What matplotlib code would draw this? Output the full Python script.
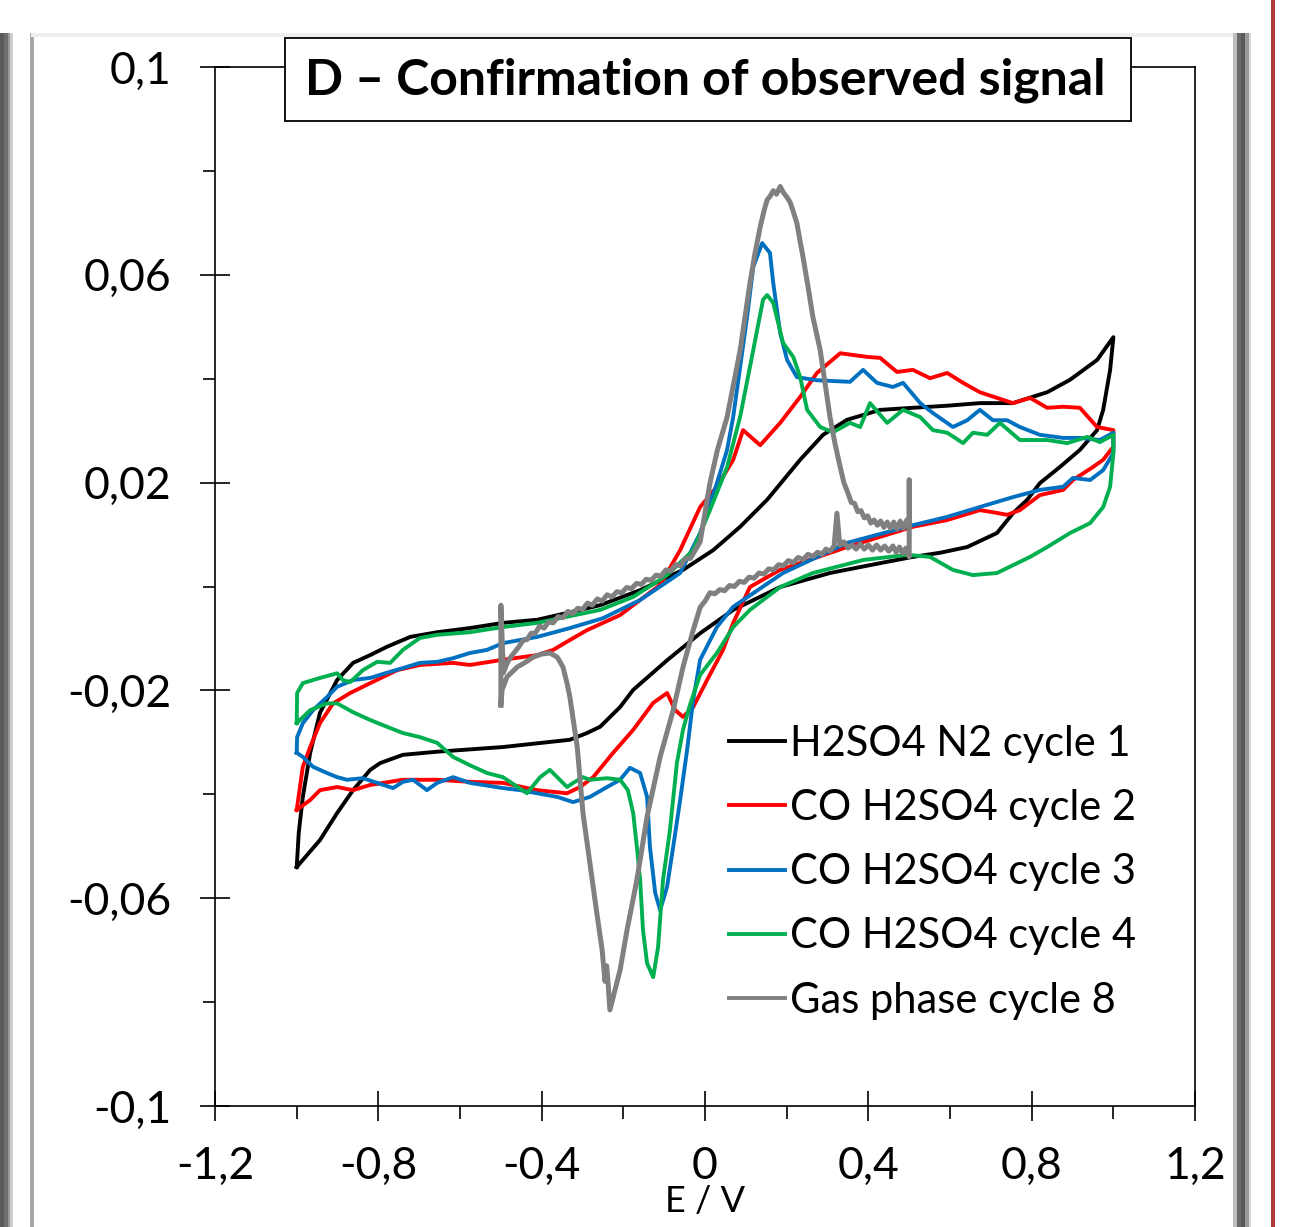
import matplotlib
matplotlib.use('Agg')
import matplotlib.pyplot as plt
from matplotlib.patches import Rectangle
from matplotlib.ticker import FixedLocator, FuncFormatter

plt.rcParams['font.family'] = ['Lato', 'DejaVu Sans']

# E / V and current values of each cycle
black_E = [-1.0, -0.995, -0.985, -0.967, -0.943, -0.901, -0.862, -0.820, -0.779, -0.722, -0.656, -0.576,
           -0.495, -0.411, -0.338, -0.257, -0.159, -0.054, 0.020, 0.086, 0.152, 0.233, 0.289, 0.348, 0.429,
           0.509, 0.593, 0.673, 0.754, 0.838, 0.894, 0.960, 1.0, 0.992, 0.975, 0.960, 0.918, 0.869, 0.820,
           0.789, 0.754, 0.715, 0.642, 0.576, 0.509, 0.429, 0.306, 0.184, 0.069, -0.012, -0.093, -0.176,
           -0.208, -0.257, -0.289, -0.331, -0.495, -0.656, -0.740, -0.796, -0.820, -0.862, -0.901, -0.943, -1.0]
black_I = [-0.0540, -0.0474, -0.0405, -0.0320, -0.0243, -0.0180, -0.0147, -0.0132, -0.0116, -0.0097, -0.0088,
           -0.0080, -0.0070, -0.0064, -0.0051, -0.0036, -0.0007, 0.0032, 0.0070, 0.0115, 0.0167, 0.0244, 0.0292,
           0.0321, 0.0340, 0.0344, 0.0348, 0.0353, 0.0353, 0.0374, 0.0398, 0.0436, 0.0480, 0.0417, 0.0340, 0.0301,
           0.0263, 0.0230, 0.0199, 0.0167, 0.0141, 0.0103, 0.0076, 0.0065, 0.0057, 0.0045, 0.0026, -0.0001,
           -0.0045, -0.0090, -0.0142, -0.0199, -0.0232, -0.0270, -0.0282, -0.0295, -0.0309, -0.0318, -0.0324,
           -0.0340, -0.0353, -0.0392, -0.0436, -0.0488, -0.0540]

red_E = [-1.0, -0.985, -0.967, -0.943, -0.911, -0.869, -0.820, -0.754, -0.698, -0.617, -0.576, -0.495, -0.411,
         -0.372, -0.331, -0.289, -0.208, -0.176, -0.110, -0.061, -0.012, 0.029, 0.069, 0.093, 0.135, 0.184, 0.233,
         0.274, 0.331, 0.397, 0.429, 0.470, 0.509, 0.551, 0.593, 0.632, 0.673, 0.715, 0.754, 0.796, 0.838, 0.877,
         0.918, 0.960, 1.0, 1.0, 0.975, 0.950, 0.901, 0.877, 0.820, 0.771, 0.740, 0.705, 0.673, 0.593, 0.509,
         0.348, 0.184, 0.152, 0.110, 0.069, 0.044, 0.005, -0.029, -0.054, -0.073, -0.093, -0.127, -0.176, -0.225,
         -0.274, -0.306, -0.338, -0.411, -0.495, -0.576, -0.656, -0.740, -0.820, -0.862, -0.901, -0.943, -0.967, -1.0]
red_I = [-0.0430, -0.0347, -0.0309, -0.0263, -0.0225, -0.0205, -0.0186, -0.0161, -0.0151, -0.0147, -0.0151,
         -0.0141, -0.0132, -0.0122, -0.0103, -0.0084, -0.0055, -0.0036, 0.0003, 0.0070, 0.0153, 0.0192, 0.0244,
         0.0301, 0.0272, 0.0315, 0.0365, 0.0411, 0.0449, 0.0442, 0.0440, 0.0413, 0.0417, 0.0401, 0.0411, 0.0392,
         0.0374, 0.0363, 0.0353, 0.0363, 0.0344, 0.0346, 0.0344, 0.0307, 0.0301, 0.0269, 0.0244, 0.0230, 0.0205,
         0.0186, 0.0176, 0.0147, 0.0138, 0.0143, 0.0147, 0.0128, 0.0115, 0.0076, 0.0032, 0.0018, -0.0001, -0.0070,
         -0.0122, -0.0180, -0.0232, -0.0251, -0.0238, -0.0205, -0.0224, -0.0276, -0.0320, -0.0367, -0.0386,
         -0.0398, -0.0392, -0.0378, -0.0376, -0.0372, -0.0372, -0.0382, -0.0392, -0.0386, -0.0392, -0.0411, -0.0430]

blue_E = [-1.0, -0.999, -0.985, -0.960, -0.926, -0.901, -0.862, -0.820, -0.779, -0.740, -0.698, -0.656, -0.617,
          -0.576, -0.534, -0.495, -0.411, -0.331, -0.250, -0.159, -0.061, -0.012, 0.029, 0.054, 0.069, 0.086,
          0.103, 0.118, 0.140, 0.159, 0.167, 0.184, 0.201, 0.225, 0.274, 0.355, 0.387, 0.421, 0.460, 0.485, 0.527,
          0.558, 0.607, 0.642, 0.673, 0.705, 0.740, 0.771, 0.820, 0.877, 0.918, 0.967, 1.0, 1.0, 0.975, 0.943,
          0.901, 0.877, 0.820, 0.754, 0.673, 0.593, 0.509, 0.348, 0.191, 0.069, 0.029, -0.012, -0.029, -0.044,
          -0.061, -0.078, -0.093, -0.110, -0.122, -0.135, -0.142, -0.159, -0.184, -0.208, -0.240, -0.282, -0.323,
          -0.362, -0.411, -0.453, -0.495, -0.576, -0.617, -0.656, -0.681, -0.715, -0.740, -0.764, -0.803, -0.838,
          -0.877, -0.901, -0.926, -0.960, -0.985, -1.0]
blue_I = [-0.0320, -0.0290, -0.0263, -0.0238, -0.0213, -0.0193, -0.0180, -0.0176, -0.0166, -0.0157, -0.0147,
          -0.0145, -0.0138, -0.0128, -0.0122, -0.0109, -0.0097, -0.0080, -0.0061, -0.0026, 0.0026, 0.0103, 0.0199,
          0.0263, 0.0327, 0.0423, 0.0519, 0.0615, 0.0661, 0.0642, 0.0584, 0.0488, 0.0436, 0.0403, 0.0397, 0.0394,
          0.0417, 0.0392, 0.0384, 0.0392, 0.0353, 0.0334, 0.0307, 0.0320, 0.0340, 0.0320, 0.0320, 0.0307, 0.0292,
          0.0286, 0.0286, 0.0282, 0.0296, 0.0257, 0.0224, 0.0205, 0.0209, 0.0192, 0.0186, 0.0172, 0.0153, 0.0134,
          0.0118, 0.0084, 0.0026, -0.0039, -0.0078, -0.0141, -0.0218, -0.0315, -0.0411, -0.0501, -0.0578, -0.0623,
          -0.0590, -0.0501, -0.0405, -0.0359, -0.0349, -0.0372, -0.0386, -0.0405, -0.0415, -0.0405, -0.0398,
          -0.0392, -0.0388, -0.0378, -0.0367, -0.0378, -0.0392, -0.0372, -0.0376, -0.0388, -0.0378, -0.0369,
          -0.0372, -0.0367, -0.0359, -0.0347, -0.0328, -0.0320]

green_E = [-1.0, -0.999, -0.985, -0.943, -0.901, -0.887, -0.869, -0.838, -0.803, -0.771, -0.740, -0.698, -0.656,
           -0.576, -0.495, -0.411, -0.257, -0.176, -0.093, -0.029, 0.012, 0.054, 0.086, 0.118, 0.142, 0.152, 0.167,
           0.191, 0.216, 0.233, 0.250, 0.282, 0.313, 0.355, 0.380, 0.404, 0.446, 0.485, 0.527, 0.558, 0.593, 0.632,
           0.656, 0.691, 0.722, 0.771, 0.838, 0.887, 0.936, 0.967, 1.0, 1.0, 0.992, 0.975, 0.943, 0.894, 0.838,
           0.796, 0.715, 0.656, 0.607, 0.551, 0.495, 0.387, 0.264, 0.184, 0.110, 0.069, 0.029, -0.012, -0.037,
           -0.054, -0.069, -0.086, -0.103, -0.115, -0.127, -0.142, -0.152, -0.159, -0.167, -0.176, -0.189, -0.208,
           -0.240, -0.282, -0.299, -0.323, -0.338, -0.362, -0.380, -0.404, -0.436, -0.495, -0.534, -0.576, -0.617,
           -0.656, -0.698, -0.740, -0.779, -0.820, -0.862, -0.901, -0.926, -0.967, -1.0]
green_I = [-0.0263, -0.0205, -0.0186, -0.0176, -0.0167, -0.0180, -0.0184, -0.0161, -0.0145, -0.0147, -0.0122,
           -0.0099, -0.0093, -0.0088, -0.0078, -0.0070, -0.0045, -0.0020, 0.0022, 0.0070, 0.0147, 0.0230, 0.0327,
           0.0455, 0.0552, 0.0561, 0.0546, 0.0469, 0.0442, 0.0403, 0.0340, 0.0307, 0.0297, 0.0315, 0.0307, 0.0353,
           0.0315, 0.0340, 0.0326, 0.0301, 0.0296, 0.0276, 0.0296, 0.0292, 0.0315, 0.0282, 0.0282, 0.0276, 0.0288,
           0.0278, 0.0292, 0.0257, 0.0192, 0.0153, 0.0122, 0.0103, 0.0076, 0.0057, 0.0026, 0.0022, 0.0032, 0.0057,
           0.0061, 0.0051, 0.0026, -0.0001, -0.0045, -0.0078, -0.0128, -0.0170, -0.0228, -0.0276, -0.0340, -0.0469,
           -0.0565, -0.0694, -0.0752, -0.0725, -0.0661, -0.0565, -0.0501, -0.0436, -0.0392, -0.0372, -0.0369,
           -0.0372, -0.0367, -0.0378, -0.0386, -0.0367, -0.0353, -0.0367, -0.0398, -0.0367, -0.0359, -0.0344,
           -0.0328, -0.0301, -0.0290, -0.0282, -0.0270, -0.0257, -0.0242, -0.0225, -0.0225, -0.0238, -0.0263]

gray_E = [-0.500, -0.500, -0.494, -0.485, -0.476, -0.466, -0.456, -0.446, -0.436, -0.426, -0.416, -0.405, -0.394,
          -0.383, -0.372, -0.360, -0.348, -0.336, -0.324, -0.312, -0.300, -0.288, -0.276, -0.264, -0.252, -0.240,
          -0.228, -0.216, -0.204, -0.192, -0.180, -0.168, -0.156, -0.144, -0.132, -0.120, -0.108, -0.096, -0.084,
          -0.072, -0.060, -0.048, -0.036, -0.024, -0.012, 0.012, 0.030, 0.054, 0.070, 0.086, 0.098, 0.110, 0.122,
          0.135, 0.145, 0.152, 0.160, 0.167, 0.175, 0.184, 0.192, 0.200, 0.208, 0.216, 0.225, 0.232, 0.240, 0.252,
          0.264, 0.282, 0.294, 0.306, 0.318, 0.331, 0.340, 0.350, 0.358, 0.366, 0.374, 0.382, 0.390, 0.398, 0.406,
          0.414, 0.422, 0.430, 0.438, 0.446, 0.454, 0.462, 0.470, 0.478, 0.486, 0.494, 0.500, 0.500, 0.500, 0.492,
          0.484, 0.476, 0.468, 0.460, 0.450, 0.440, 0.430, 0.420, 0.410, 0.400, 0.390, 0.380, 0.370, 0.360, 0.350,
          0.340, 0.330, 0.323, 0.316, 0.306, 0.296, 0.286, 0.276, 0.264, 0.252, 0.240, 0.228, 0.216, 0.204, 0.192,
          0.180, 0.168, 0.156, 0.144, 0.132, 0.120, 0.108, 0.096, 0.084, 0.072, 0.060, 0.048, 0.036, 0.024, 0.012,
          0.000, -0.012, -0.029, -0.054, -0.078, -0.110, -0.142, -0.167, -0.191, -0.208, -0.225, -0.233, -0.238,
          -0.241, -0.245, -0.252, -0.265, -0.282, -0.299, -0.313, -0.331, -0.338, -0.348, -0.362, -0.380, -0.400,
          -0.421, -0.440, -0.460, -0.485, -0.497, -0.500]
gray_I = [-0.0228, -0.0036, -0.0166, -0.0148, -0.0136, -0.0126, -0.0116, -0.0104, -0.0102, -0.0090, -0.0090,
          -0.0076, -0.0080, -0.0068, -0.0070, -0.0058, -0.0060, -0.0048, -0.0052, -0.0042, -0.0044, -0.0032,
          -0.0036, -0.0024, -0.0028, -0.0016, -0.0020, -0.0010, -0.0012, -0.0002, -0.0004, 0.0006, 0.0004, 0.0014,
          0.0012, 0.0022, 0.0020, 0.0032, 0.0030, 0.0042, 0.0040, 0.0054, 0.0054, 0.0070, 0.0086, 0.0199, 0.0262,
          0.0326, 0.0390, 0.0455, 0.0520, 0.0584, 0.0640, 0.0692, 0.0725, 0.0744, 0.0752, 0.0762, 0.0755, 0.0770,
          0.0758, 0.0750, 0.0740, 0.0722, 0.0699, 0.0668, 0.0634, 0.0578, 0.0519, 0.0455, 0.0390, 0.0326, 0.0276,
          0.0230, 0.0200, 0.0180, 0.0162, 0.0160, 0.0144, 0.0146, 0.0132, 0.0136, 0.0122, 0.0128, 0.0118, 0.0126,
          0.0114, 0.0124, 0.0112, 0.0124, 0.0110, 0.0126, 0.0112, 0.0128, 0.0122, 0.0205, 0.0057, 0.0074, 0.0064,
          0.0076, 0.0066, 0.0078, 0.0068, 0.0078, 0.0070, 0.0080, 0.0070, 0.0080, 0.0072, 0.0082, 0.0072, 0.0080,
          0.0074, 0.0086, 0.0080, 0.0141, 0.0078, 0.0068, 0.0072, 0.0062, 0.0066, 0.0058, 0.0062, 0.0052, 0.0056,
          0.0046, 0.0050, 0.0040, 0.0042, 0.0032, 0.0034, 0.0024, 0.0026, 0.0016, 0.0018, 0.0008, 0.0010, 0.0000,
          0.0002, -0.0008, -0.0006, -0.0014, -0.0012, -0.0028, -0.0040, -0.0084, -0.0155, -0.0238, -0.0328,
          -0.0443, -0.0565, -0.0661, -0.0738, -0.0790, -0.0815, -0.0757, -0.0730, -0.0760, -0.0700, -0.0629,
          -0.0532, -0.0436, -0.0309, -0.0213, -0.0186, -0.0155, -0.0136, -0.0128, -0.0130, -0.0136, -0.0146,
          -0.0155, -0.0174, -0.0199, -0.0228]

labels = ['H2SO4 N2 cycle 1', 'CO H2SO4 cycle 2', 'CO H2SO4 cycle 3', 'CO H2SO4 cycle 4', 'Gas phase cycle 8']
colors = ['#000000', '#FF0000', '#0070C0', '#00B050', '#808080']
widths = [2.8, 2.8, 2.8, 2.8, 3.6]

x_major = [-1.2, -0.8, -0.4, 0, 0.4, 0.8, 1.2]
x_minor = [-1.0, -0.6, -0.2, 0.2, 0.6, 1.0]
y_major = [-0.1, -0.06, -0.02, 0.02, 0.06, 0.1]
y_minor = [-0.08, -0.04, 0, 0.04, 0.08]


def comma_fmt(v, pos):
	s = '%g' % round(v, 3)
	if s == '-0':
		s = '0'
	return s.replace('.', ',')


fig = plt.figure(figsize=(12.9, 12.27), dpi=100)
ax = fig.add_axes([0.1667, 0.0986, 0.7597, 0.8468])

series = [(black_E, black_I), (red_E, red_I), (blue_E, blue_I), (green_E, green_I), (gray_E, gray_I)]
for (e, i), lab, col, lw in zip(series, labels, colors, widths):
	ax.plot(e, i, color=col, lw=lw, label=lab, solid_joinstyle='round')

ax.set_xlim(-1.2, 1.2)
ax.set_ylim(-0.1, 0.1)
ax.xaxis.set_major_locator(FixedLocator(x_major))
ax.xaxis.set_minor_locator(FixedLocator(x_minor))
ax.yaxis.set_major_locator(FixedLocator(y_major))
ax.yaxis.set_minor_locator(FixedLocator(y_minor))
ax.xaxis.set_major_formatter(FuncFormatter(comma_fmt))
ax.yaxis.set_major_formatter(FuncFormatter(comma_fmt))
ax.tick_params(which='major', direction='inout', length=21, width=1.2, labelsize=32)
ax.tick_params(which='minor', direction='out', length=9, width=1.2)
ax.tick_params(axis='x', which='major', pad=18)
ax.tick_params(axis='y', which='major', pad=21)
for sp in ax.spines.values():
	sp.set_linewidth(1.2)

ax.set_xlabel('E / V', fontsize=26, labelpad=-1)

leg = ax.legend(loc='upper left', bbox_to_anchor=(0.524, 0.367), frameon=False, fontsize=30,
                handlelength=1.35, handletextpad=0.13, labelspacing=0.63, borderaxespad=0, borderpad=0)
for h in leg.get_lines():
	h.set_linewidth(2.8)

# title box
fig.add_artist(Rectangle((0.2209, 0.9014), 0.6558, 0.0676, transform=fig.transFigure,
                         facecolor='white', edgecolor='black', lw=1.3, zorder=5))
fig.text(0.5465, 0.935, 'D \u2013 Confirmation of observed signal', ha='center', va='center',
         fontsize=36, fontweight='bold', zorder=6)

# page frame decorations
for x0, w, c in [(0.0, 0.003, '#5a5a5a'), (0.003, 0.003, '#6e6e6e'), (0.006, 0.002, '#9a9a9a'),
                 (0.008, 0.002, '#cfcfcf')]:
	fig.add_artist(Rectangle((x0, 0.0), w, 0.973, transform=fig.transFigure, color=c, lw=0))
fig.add_artist(Rectangle((0.0235, 0.0), 0.003, 0.973, transform=fig.transFigure, color='#a8a8a8', lw=0))
fig.add_artist(Rectangle((0.024, 0.970), 0.937, 0.003, transform=fig.transFigure, color='#eeeeee', lw=0))
for x0, w, c in [(0.9560, 0.003, '#bdbdbd'), (0.9590, 0.003, '#6a6a6a'), (0.9620, 0.003, '#5a5a5a'),
                 (0.9650, 0.003, '#9a9a9a'), (0.9680, 0.002, '#d8d8d8')]:
	fig.add_artist(Rectangle((x0, 0.0), w, 0.973, transform=fig.transFigure, color=c, lw=0))
fig.add_artist(Rectangle((0.9855, 0.0), 0.003, 1.0, transform=fig.transFigure, color='#b03a3a', lw=0))

fig.savefig('out.png', dpi=100)
